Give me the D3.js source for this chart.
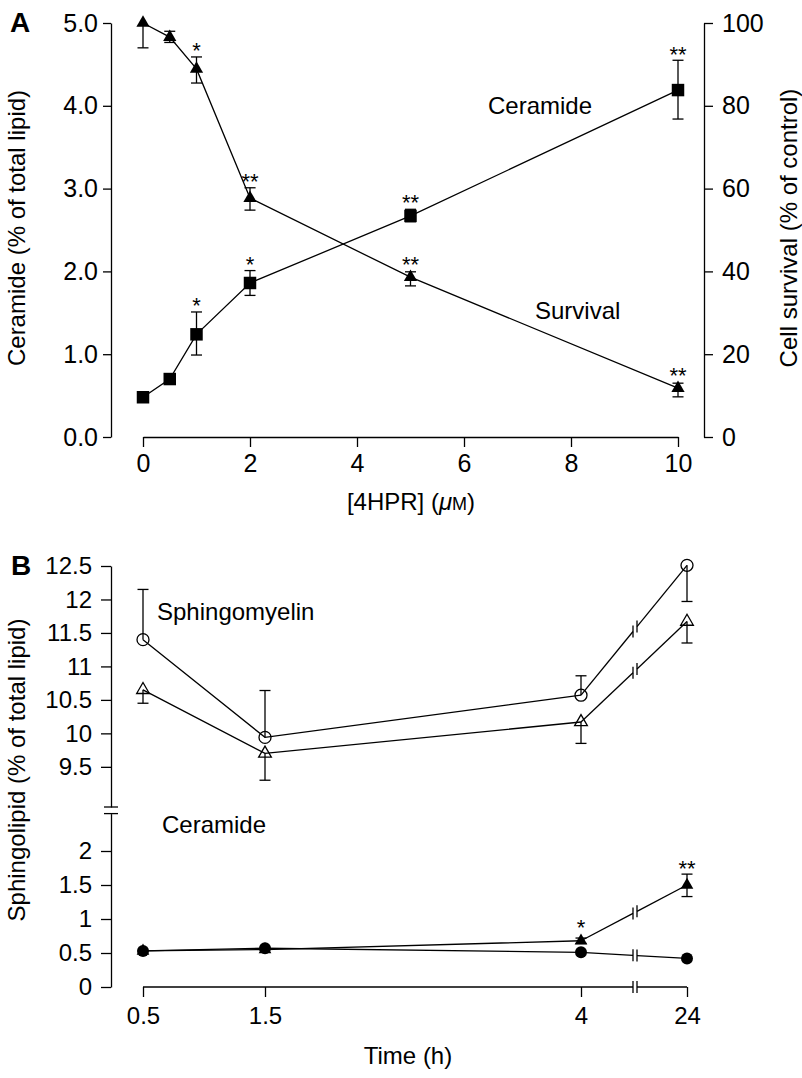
<!DOCTYPE html>
<html><head><meta charset="utf-8">
<script src="https://cdn.jsdelivr.net/npm/d3@7"></script>
<style>
body{margin:0;background:#fff}
svg{display:block}
text{font-family:"Liberation Sans",Arial,Helvetica,sans-serif;fill:#000}
</style>
</head><body>
<svg id="c" width="802" height="1078"></svg>
<script>
// ---------- Panel A data ----------
const doseA = [0, 0.5, 1, 2, 5, 10];
const xTicksA = [0, 2, 4, 6, 8, 10];
const yTicksLeftA = [0, 1, 2, 3, 4, 5];
const yTicksRightA = [0, 20, 40, 60, 80, 100];
const ceramideA = [0.48, 0.70, 1.24, 1.86, 2.67, 4.19];
const ceramideA_lo = [null, null, 0.99, 1.71, 2.60, 3.84];
const ceramideA_hi = [null, null, 1.51, 2.01, 2.75, 4.55];
const ceramideA_sig = ["", "", "*", "*", "**", "**"];
const survivalA = [100, 96.6, 88.9, 57.7, 38.6, 11.8];
const survivalA_lo = [94.0, 95.3, 85.5, 54.8, 36.5, 9.7];
const survivalA_hi = [null, 98.0, 91.8, 60.2, 39.9, 13.0];
const survivalA_sig = ["", "", "*", "**", "**", "**"];

// ---------- Panel B data ----------
const timeB = [0.5, 1.5, 4, 24];
const xTickLabelsB = ["0.5", "1.5", "4", "24"];
const yTicksUpperB = [9.5, 10, 10.5, 11, 11.5, 12, 12.5];
const yTicksLowerB = [0, 0.5, 1, 1.5, 2];
const smCircle = [11.40, 9.94, 10.57, 12.51];
const smCircle_lo = [null, null, null, 11.97];
const smCircle_hi = [12.15, 10.64, 10.86, null];
const smTriangle = [10.65, 9.70, 10.17, 11.67];
const smTriangle_lo = [10.45, 9.30, 9.85, 11.35];
const smTriangle_hi = [null, null, null, null];
const cerCircle = [0.53, 0.57, 0.51, 0.42];
const cerTriangle = [0.53, 0.55, 0.68, 1.50];
const cerTriangle_lo = [null, null, 0.64, 1.33];
const cerTriangle_hi = [null, null, 0.72, 1.66];
const cerTriangle_sig = ["", "", "*", "**"];

const svg = d3.select("#c");
const SW = 1.3;
const FONT = '"Liberation Sans",Arial,Helvetica,sans-serif';

function styleAxis(g, fs) {
  g.attr("font-family", FONT).attr("font-size", fs);
  g.select(".domain").attr("stroke-width", SW);
  g.selectAll(".tick line").attr("stroke-width", SW);
  g.selectAll(".tick text").attr("font-size", fs).attr("fill", "#000");
}
function errBar(g, x, y0, y1) {
  const cap = 5.5;
  g.append("line").attr("x1", x).attr("x2", x).attr("y1", y0).attr("y2", y1)
    .attr("stroke", "#000").attr("stroke-width", SW);
  g.append("line").attr("x1", x - cap).attr("x2", x + cap).attr("y1", y1).attr("y2", y1)
    .attr("stroke", "#000").attr("stroke-width", SW);
}
function star(g, x, yTop, s) {
  if (!s) return;
  g.append("text").attr("x", x).attr("y", yTop - 11 + 12.5).attr("text-anchor", "middle")
    .attr("font-size", 22).text(s);
}
const lineGen = (xs, ys) => d3.line().x(d => xs(d[0])).y(d => ys(d[1]));

// ================= PANEL A =================
const xA = d3.scaleLinear().domain([0, 10]).range([143, 678]);
const yAL = d3.scaleLinear().domain([0, 5]).range([437, 23]);
const yAR = d3.scaleLinear().domain([0, 100]).range([437, 23]);
const gA = svg.append("g");

const axL = gA.append("g").attr("transform", "translate(111,0)")
  .call(d3.axisLeft(yAL).tickValues(yTicksLeftA).tickFormat(d3.format(".1f")).tickSize(8).tickSizeOuter(0).tickPadding(5));
styleAxis(axL, 25);
const axR = gA.append("g").attr("transform", "translate(704,0)")
  .call(d3.axisRight(yAR).tickValues(yTicksRightA).tickSize(9).tickSizeOuter(0).tickPadding(9));
styleAxis(axR, 25);
const axB = gA.append("g").attr("transform", "translate(0,437)")
  .call(d3.axisBottom(xA).tickValues(xTicksA).tickSize(10).tickSizeOuter(0).tickPadding(7));
styleAxis(axB, 25);

gA.append("path").datum(doseA.map((d, i) => [d, survivalA[i]]))
  .attr("d", lineGen(xA, yAR)).attr("fill", "none").attr("stroke", "#000").attr("stroke-width", SW);
gA.append("path").datum(doseA.map((d, i) => [d, ceramideA[i]]))
  .attr("d", lineGen(xA, yAL)).attr("fill", "none").attr("stroke", "#000").attr("stroke-width", SW);

doseA.forEach((d, i) => {
  const x = xA(d);
  if (survivalA_lo[i] != null) errBar(gA, x, yAR(survivalA[i]), yAR(survivalA_lo[i]));
  if (survivalA_hi[i] != null) errBar(gA, x, yAR(survivalA[i]), yAR(survivalA_hi[i]));
  if (ceramideA_lo[i] != null) errBar(gA, x, yAL(ceramideA[i]), yAL(ceramideA_lo[i]));
  if (ceramideA_hi[i] != null) errBar(gA, x, yAL(ceramideA[i]), yAL(ceramideA_hi[i]));
});
const triA = d3.symbol(d3.symbolTriangle, 76)();
const sqA = d3.symbol(d3.symbolSquare, 156)();
doseA.forEach((d, i) => {
  gA.append("path").attr("d", triA).attr("transform", `translate(${xA(d)},${yAR(survivalA[i])})`).attr("fill", "#000");
  gA.append("path").attr("d", sqA).attr("transform", `translate(${xA(d)},${yAL(ceramideA[i])})`).attr("fill", "#000");
});
doseA.forEach((d, i) => {
  const x = xA(d);
  const tS = Math.min(yAR(survivalA[i]) - 7, survivalA_hi[i] != null ? yAR(survivalA_hi[i]) : 1e9);
  star(gA, x, tS, survivalA_sig[i]);
  const tC = Math.min(yAL(ceramideA[i]) - 7, ceramideA_hi[i] != null ? yAL(ceramideA_hi[i]) : 1e9);
  star(gA, x, tC, ceramideA_sig[i]);
});
gA.append("text").attr("x", 10).attr("y", 32).attr("font-size", 28).attr("font-weight", "bold").text("A");
gA.append("text").attr("x", 488).attr("y", 114).attr("font-size", 24).text("Ceramide");
gA.append("text").attr("x", 535).attr("y", 319).attr("font-size", 24).text("Survival");
gA.append("text").attr("transform", "translate(25,228) rotate(-90)").attr("text-anchor", "middle")
  .attr("font-size", 24).text("Ceramide (% of total lipid)");
gA.append("text").attr("transform", "translate(797,228) rotate(-90)").attr("text-anchor", "middle")
  .attr("font-size", 24).text("Cell survival (% of control)");
const xl = gA.append("text").attr("x", 411).attr("y", 510).attr("text-anchor", "middle").attr("font-size", 24);
xl.append("tspan").text("[4HPR] (");
xl.append("tspan").attr("font-style", "italic").text("\u03bc");
xl.append("tspan").attr("font-size", 18).text("M");
xl.append("tspan").text(")");

// ================= PANEL B =================
const xB = d3.scaleLinear().domain(timeB).range([143, 265, 581, 687]);
const yBU = d3.scaleLinear().domain([8.9, 12.5]).range([807, 566]);
const yBL = d3.scaleLinear().domain([0, 2.55]).range([987, 813.6]);
const gB = svg.append("g");
const BRK0 = 633, BRK1 = 637;

const axBU = gB.append("g").attr("transform", "translate(111,0)")
  .call(d3.axisLeft(yBU).tickValues(yTicksUpperB).tickFormat(d => String(d)).tickSize(10).tickSizeOuter(0).tickPadding(9));
styleAxis(axBU, 24);
const axBL = gB.append("g").attr("transform", "translate(111,0)")
  .call(d3.axisLeft(yBL).tickValues(yTicksLowerB).tickFormat(d => String(d)).tickSize(10).tickSizeOuter(0).tickPadding(9));
styleAxis(axBL, 24);
[yBU.range()[0], yBL.range()[1]].forEach(y => {
  gB.append("line").attr("x1", 104).attr("x2", 118).attr("y1", y).attr("y2", y)
    .attr("stroke", "#000").attr("stroke-width", SW);
});
const axXB = gB.append("g").attr("transform", "translate(0,987)")
  .call(d3.axisBottom(xB).tickValues(timeB).tickFormat((d, i) => xTickLabelsB[i]).tickSize(10).tickSizeOuter(0).tickPadding(10));
styleAxis(axXB, 24);
axXB.select(".domain").remove();
axXB.append("line").attr("x1", xB(0.5)).attr("x2", BRK0).attr("y1", 0).attr("y2", 0).attr("stroke", "#000").attr("stroke-width", SW);
axXB.append("line").attr("x1", BRK1).attr("x2", xB(24)).attr("y1", 0).attr("y2", 0).attr("stroke", "#000").attr("stroke-width", SW);
[BRK0, BRK1].forEach(x => axXB.append("line").attr("x1", x).attr("x2", x).attr("y1", -6).attr("y2", 6)
  .attr("stroke", "#000").attr("stroke-width", SW));

function brokenSeries(vals, ys) {
  const pts = timeB.map((t, i) => [xB(t), ys(vals[i])]);
  gB.append("path").attr("d", d3.line()(pts.slice(0, 3))).attr("fill", "none").attr("stroke", "#000").attr("stroke-width", SW);
  const [a, b] = [pts[2], pts[3]];
  const at = x => a[1] + (b[1] - a[1]) * (x - a[0]) / (b[0] - a[0]);
  const p0 = [BRK0, at(BRK0)], p1 = [BRK1, at(BRK1)];
  gB.append("path").attr("d", d3.line()([a, p0])).attr("fill", "none").attr("stroke", "#000").attr("stroke-width", SW);
  gB.append("path").attr("d", d3.line()([p1, b])).attr("fill", "none").attr("stroke", "#000").attr("stroke-width", SW);
  [p0, p1].forEach(p => gB.append("line").attr("x1", p[0]).attr("x2", p[0]).attr("y1", p[1] - 6).attr("y2", p[1] + 6)
    .attr("stroke", "#000").attr("stroke-width", SW));
}
brokenSeries(smCircle, yBU);
brokenSeries(smTriangle, yBU);
brokenSeries(cerCircle, yBL);
brokenSeries(cerTriangle, yBL);

timeB.forEach((t, i) => {
  const x = xB(t);
  if (smCircle_hi[i] != null) errBar(gB, x, yBU(smCircle[i]), yBU(smCircle_hi[i]));
  if (smCircle_lo[i] != null) errBar(gB, x, yBU(smCircle[i]), yBU(smCircle_lo[i]));
  if (smTriangle_lo[i] != null) errBar(gB, x, yBU(smTriangle[i]), yBU(smTriangle_lo[i]));
  if (smTriangle_hi[i] != null) errBar(gB, x, yBU(smTriangle[i]), yBU(smTriangle_hi[i]));
  if (cerTriangle_lo[i] != null) errBar(gB, x, yBL(cerTriangle[i]), yBL(cerTriangle_lo[i]));
  if (cerTriangle_hi[i] != null) errBar(gB, x, yBL(cerTriangle[i]), yBL(cerTriangle_hi[i]));
});
const triOpen = d3.symbol(d3.symbolTriangle, 70)();
const triFill = d3.symbol(d3.symbolTriangle, 70)();
timeB.forEach((t, i) => {
  const x = xB(t);
  gB.append("circle").attr("cx", x).attr("cy", yBU(smCircle[i])).attr("r", 6)
    .attr("fill", "none").attr("stroke", "#000").attr("stroke-width", SW);
  gB.append("path").attr("d", triOpen).attr("transform", `translate(${x},${yBU(smTriangle[i])})`)
    .attr("fill", "none").attr("stroke", "#000").attr("stroke-width", SW);
  gB.append("path").attr("d", triFill).attr("transform", `translate(${x},${yBL(cerTriangle[i])})`).attr("fill", "#000");
  gB.append("circle").attr("cx", x).attr("cy", yBL(cerCircle[i])).attr("r", 6).attr("fill", "#000");
  const top = Math.min(yBL(cerTriangle[i]) - 7, cerTriangle_hi[i] != null ? yBL(cerTriangle_hi[i]) : 1e9);
  star(gB, x, top, cerTriangle_sig[i]);
});

gB.append("text").attr("x", 11).attr("y", 575).attr("font-size", 28).attr("font-weight", "bold").text("B");
gB.append("text").attr("x", 157).attr("y", 620).attr("font-size", 24).text("Sphingomyelin");
gB.append("text").attr("x", 162).attr("y", 833).attr("font-size", 24).text("Ceramide");
gB.append("text").attr("transform", "translate(25,770) rotate(-90)").attr("text-anchor", "middle")
  .attr("font-size", 24).text("Sphingolipid (% of total lipid)");
gB.append("text").attr("x", 408).attr("y", 1064).attr("text-anchor", "middle").attr("font-size", 24).text("Time (h)");
</script>
</body></html>
